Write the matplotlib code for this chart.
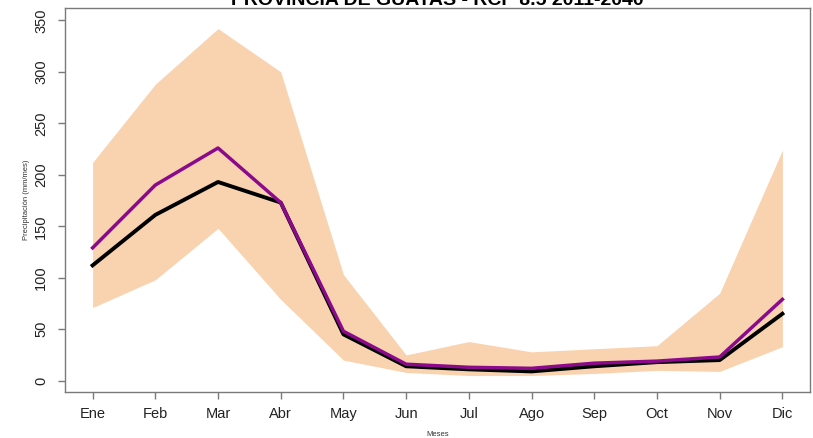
import numpy as np
import matplotlib
matplotlib.use("Agg")
import matplotlib.pyplot as plt

plt.rcParams["font.family"] = ["Liberation Sans", "DejaVu Sans"]

# Datos (precipitación mensual, mm/mes)
meses = ["Ene", "Feb", "Mar", "Abr", "May", "Jun",
         "Jul", "Ago", "Sep", "Oct", "Nov", "Dic"]
banda_sup = [212, 288, 342, 300, 103, 25, 38, 28, 31, 34, 85, 224]
banda_inf = [71, 98, 148, 79, 20, 8, 5, 5, 7, 10, 9, 33]
linea_negra = [112, 161, 193, 173, 45, 14, 11, 9, 14, 18, 20, 65]
linea_morada = [129, 190, 226, 173, 48, 16, 13, 12, 17, 19, 23, 79]

x = np.arange(1, len(meses) + 1)
gris = "#7a7a7a"

fig = plt.figure(figsize=(8.13, 4.38), dpi=100)
ax = fig.add_axes([65/813, 46/438, 745/813, 384/438])

ax.fill_between(x, banda_inf, banda_sup, color="#f9d3af", linewidth=0)
ax.plot(x, linea_negra, color="black", linewidth=2.8)
ax.plot(x, linea_morada, color="#8b0a8b", linewidth=2.5)

ax.set_xlim(0.56, 12.44)
ax.set_ylim(-11, 362)
ax.set_xticks(x)
ax.set_xticklabels(meses, fontsize=10.5, color="#222222")
ax.set_yticks(np.arange(0, 351, 50))
ax.set_yticklabels([str(v) for v in range(0, 351, 50)], rotation=90,
                   va="center", fontsize=10.5, color="#222222")
ax.tick_params(axis="both", color=gris, length=5, width=1)
ax.tick_params(axis="y", pad=7)
ax.tick_params(axis="x", pad=6)

for s in ax.spines.values():
    s.set_color(gris)
    s.set_linewidth(1)

ax.set_ylabel("Precipitación (mm/mes)", fontsize=5.5, color="#333333", labelpad=3)
ax.set_xlabel("Meses", fontsize=5.5, color="#333333", labelpad=7)

fig.text(437/813, 1 - 5/438, "PROVINCIA DE GUAYAS - RCP 8.5 2011-2040",
         ha="center", va="baseline", fontsize=14, fontweight="bold")

fig.savefig("out.png", dpi=100)
